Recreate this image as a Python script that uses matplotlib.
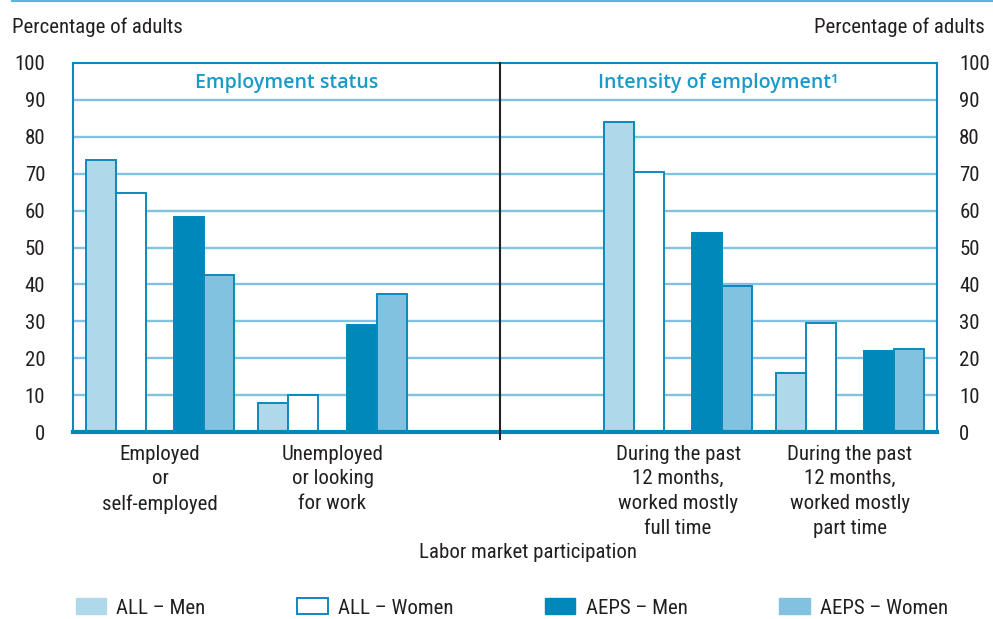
import matplotlib
matplotlib.use("Agg")
import matplotlib.pyplot as plt
from matplotlib import font_manager
from matplotlib.lines import Line2D
from matplotlib.patches import Patch
import numpy as np

# pick a narrow sans if one is around
installed = {f.name for f in font_manager.fontManager.ttflist}
narrow = [n for n in ["Roboto Condensed", "Archivo Narrow", "PT Sans Narrow",
                      "Liberation Sans Narrow", "Open Sans Condensed", "Arimo"]
          if n in installed]
plt.rcParams['font.family'] = narrow[:1] + ['DejaVu Sans']

categories = ["Employed\nor\nself-employed",
              "Unemployed\nor looking\nfor work",
              "During the past\n12 months,\nworked mostly\nfull time",
              "During the past\n12 months,\nworked mostly\npart time"]
all_men = [73.7, 7.9, 83.9, 15.9]
all_women = [64.7, 10.1, 70.5, 29.5]
aeps_men = [58.2, 29.1, 53.8, 22.0]
aeps_women = [42.5, 37.5, 39.7, 22.5]
series_labels = ["ALL – Men", "ALL – Women", "AEPS – Men", "AEPS – Women"]
panel_titles = ["Employment status", "Intensity of employment\u00b9"]

edge = "#0a89bd"
dark = "#0088bb"
light = "#b0d8eb"
mid = "#80c2df"
grid_c = "#80c2df"
txt = "#231f20"
title_c = "#1a9ac9"
fs = 15

fig = plt.figure(figsize=(9.93, 6.19), dpi=100)
ax = fig.add_axes([73 / 993, 1 - 432 / 619, 864 / 993, 369 / 619])

# category centres, in bar widths
centres = np.array([2.9, 8.65, 20.17, 25.9])
offsets = [-1.97, -0.97, 0.97, 1.97]
split = 14.23
xmax = 28.8

styles = [dict(color=light, edgecolor=edge),
          dict(color="white", edgecolor=edge),
          dict(color=dark, edgecolor=dark),
          dict(color=mid, edgecolor=edge)]
for vals, off, st in zip([all_men, all_women, aeps_men, aeps_women], offsets, styles):
    ax.bar(centres + off, vals, width=1.0, linewidth=1.4, zorder=3, **st)

ax.set_xlim(0, xmax)
ax.set_ylim(0, 100)
yt = np.arange(0, 101, 10)
ax.set_yticks(yt)
for y in yt[1:-1]:
    ax.axhline(y, color=grid_c, lw=1.7, zorder=1)

ax.tick_params(axis="y", length=0, labelsize=fs, colors=txt, pad=20)
ax2 = ax.secondary_yaxis("right")
ax2.set_yticks(yt)
ax2.tick_params(length=0, labelsize=fs, colors=txt, pad=16)
ax2.spines["right"].set_visible(False)

ax.set_xticks(centres)
ax.set_xticklabels(categories, fontsize=fs, color=txt, linespacing=1.38, va="top")
ax.tick_params(axis="x", length=0, pad=9)
ax.set_xlabel("Labor market participation", fontsize=fs, color=txt)
ax.xaxis.label.set_va("center")
ax.xaxis.set_label_coords((528 - 73) / 864, (432 - 553) / 369)

for s in ["left", "top", "right"]:
    ax.spines[s].set_color(edge)
    ax.spines[s].set_linewidth(1.5)
ax.spines["bottom"].set_color(dark)
ax.spines["bottom"].set_linewidth(3)
ax.spines["bottom"].set_zorder(4)

ax.plot([split, split], [-2, 100], color="#222222", lw=1.5, zorder=5, clip_on=False)

ax.text(split / 2, 94.5, panel_titles[0], ha="center", va="center",
        fontsize=14, color=title_c, fontfamily="Open Sans", fontweight="semibold")
ax.text((split + xmax) / 2, 94.5, panel_titles[1], ha="center", va="center",
        fontsize=14, color=title_c, fontfamily="Open Sans", fontweight="semibold")

fig.text(12 / 993, 1 - 27 / 619, "Percentage of adults", fontsize=fs, color=txt,
         ha="left", va="center")
fig.text(985 / 993, 1 - 27 / 619, "Percentage of adults", fontsize=fs, color=txt,
         ha="right", va="center")

fig.add_artist(Line2D([12 / 993, 1], [1 - 1 / 619, 1 - 1 / 619], color="#5bb6dd", lw=1.5))

handles = [Patch(facecolor=light, edgecolor=light),
           Patch(facecolor="white", edgecolor=edge, linewidth=1.4),
           Patch(facecolor=dark, edgecolor=dark),
           Patch(facecolor=mid, edgecolor=mid)]
fig.legend(handles, series_labels, loc="center", bbox_to_anchor=(512 / 993, 1 - 608 / 619),
           ncol=4, frameon=False, fontsize=fs, handlelength=1.45, handleheight=0.8,
           handletextpad=0.5, columnspacing=4.4, labelcolor=txt)

fig.savefig("out.png", dpi=100)
